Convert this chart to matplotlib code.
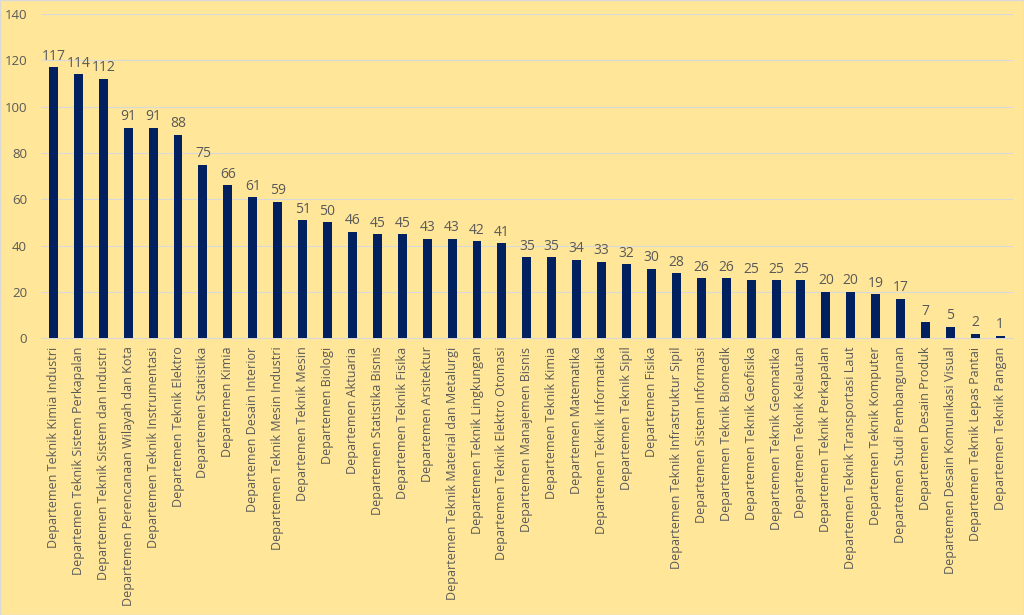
import matplotlib
matplotlib.use("Agg")
import matplotlib.pyplot as plt
import numpy as np

departments = [
    "Departemen Teknik Kimia Industri",
    "Departemen Teknik Sistem Perkapalan",
    "Departemen Teknik Sistem dan Industri",
    "Departemen Perencanaan Wilayah dan Kota",
    "Departemen Teknik Instrumentasi",
    "Departemen Teknik Elektro",
    "Departemen Statistika",
    "Departemen Kimia",
    "Departemen Desain Interior",
    "Departemen Teknik Mesin Industri",
    "Departemen Teknik Mesin",
    "Departemen Biologi",
    "Departemen Aktuaria",
    "Departemen Statistika Bisnis",
    "Departemen Teknik Fisika",
    "Departemen Arsitektur",
    "Departemen Teknik Material dan Metalurgi",
    "Departemen Teknik Lingkungan",
    "Departemen Teknik Elektro Otomasi",
    "Departemen Manajemen Bisnis",
    "Departemen Teknik Kimia",
    "Departemen Matematika",
    "Departemen Teknik Informatika",
    "Departemen Teknik Sipil",
    "Departemen Fisika",
    "Departemen Teknik Infrastruktur Sipil",
    "Departemen Sistem Informasi",
    "Departemen Teknik Biomedik",
    "Departemen Teknik Geofisika",
    "Departemen Teknik Geomatika",
    "Departemen Teknik Kelautan",
    "Departemen Teknik Perkapalan",
    "Departemen Teknik Transportasi Laut",
    "Departemen Teknik Komputer",
    "Departemen Studi Pembangunan",
    "Departemen Desain Produk",
    "Departemen Desain Komunikasi Visual",
    "Departemen Teknik Lepas Pantai",
    "Departemen Teknik Pangan",
]
counts = [117, 114, 112, 91, 91, 88, 75, 66, 61, 59, 51, 50, 46, 45, 45, 43, 43,
          42, 41, 35, 35, 34, 33, 32, 30, 28, 26, 26, 25, 25, 25, 20, 20, 19, 17,
          7, 5, 2, 1]

bg = "#FFE699"
bar_color = "#002060"
text_color = "#595959"

plt.rcParams['font.family'] = ['Open Sans', 'DejaVu Sans']

fig = plt.figure(figsize=(10.24, 6.15), dpi=100, facecolor=bg)
ax = fig.add_axes([0.040, 0.450, 0.949, 0.527], facecolor=bg)

x = np.arange(len(departments))
bars = ax.bar(x, counts, width=0.36, color=bar_color, zorder=3)

for xi, v in zip(x, counts):
    ax.text(xi, v + 1.5, str(v), ha='center', va='bottom', fontsize=10, color=text_color)

ax.set_xlim(-0.5, len(departments) - 0.5)
ax.set_ylim(0, 140)
ax.set_yticks(np.arange(0, 141, 20))
ax.yaxis.grid(True, color="#D9D9D9", linewidth=0.8, zorder=0)
ax.set_xticks(x)
ax.set_xticklabels(departments, rotation=90, fontsize=9, color=text_color)
ax.tick_params(axis='y', labelsize=9.5, colors=text_color, length=0, pad=10)
ax.tick_params(axis='x', length=0, pad=6)
for s in ['top', 'right', 'left']:
    ax.spines[s].set_visible(False)
ax.spines['bottom'].set_color("#D9D9D9")

fig.patches.append(plt.Rectangle((0, 0), 1, 1, transform=fig.transFigure,
                                 fill=False, edgecolor="#D9D9D9", linewidth=1))

fig.savefig("out.png", dpi=100, facecolor=bg)
